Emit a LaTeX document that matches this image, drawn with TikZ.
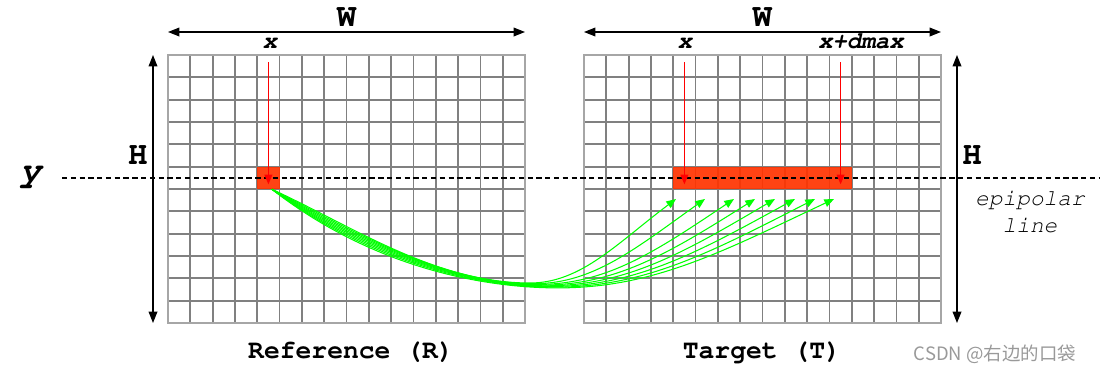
\documentclass[tikz,border=0pt]{standalone}
\usepackage[T1]{fontenc}
\usepackage{fontspec}
\newfontfamily\wmfont{Noto Sans CJK SC}
\usepackage{xcolor}
\usepackage{tikz}
\usetikzlibrary{arrows.meta, positioning, calc}
\definecolor{cellred}{HTML}{FF3300}
\definecolor{raygreen}{HTML}{00FF00}
\newcommand{\cour}[1]{\fontencoding{T1}\fontfamily{pcr}\fontsize{#1}{1.2\dimexpr#1pt\relax}\selectfont}
\tikzset{
  gridline/.style={draw=gray,line width=1pt},
  gridframe/.style={draw=gray!70,line width=1pt},
  pixel/.style={fill=cellred,fill opacity=0.92,inner sep=0pt,minimum width=0.446cm,minimum height=0.446cm},
  ray/.style={draw=red,line width=0.6pt,-{Triangle[length=5.5pt,width=4.5pt]}},
  match/.style={draw=raygreen,line width=0.6pt,-{Triangle[length=5.5pt,width=4.5pt]}},
  epiline/.style={dashed,line width=0.6pt,dash pattern=on 3pt off 2pt},
  dimlabel/.style={font=\cour{18.5}\bfseries,anchor=base,inner sep=0pt},
  coordlabel/.style={font=\cour{13.5}\bfseries\itshape,anchor=base,inner sep=0pt},
  imgname/.style={font=\cour{15}\bfseries,anchor=base,inner sep=0pt}
}
\begin{document}
\begin{tikzpicture}[x=0.02cm,y=-0.02cm,>={Triangle[length=6.5pt,width=5pt]}]
\useasboundingbox (0,0) rectangle (1112,373);
\foreach \gx in {168,584}{
  \foreach \i in {1,...,15} \draw [gridline] (\gx+\i*22.3125,55) -- (\gx+\i*22.3125,323);
  \foreach \j in {1,...,11} \draw [gridline] (\gx,55+\j*22.3333) -- (\gx+357,55+\j*22.3333);
  \draw [gridframe] (\gx,55) rectangle (\gx+357,323);
}
\node [pixel] (refpix) at (268.4,177.8) {};
\node [pixel,minimum width=3.57cm] (tgtrow) at (762.5,177.8) {};
\coordinate (wRl) at (168,32); \coordinate (wRr) at (525,32);
\coordinate (wTl) at (584,32); \coordinate (wTr) at (941,32);
\coordinate (hRt) at (153,55); \coordinate (hRb) at (153,323);
\coordinate (hTt) at (957,55); \coordinate (hTb) at (957,323);
\coordinate (epiL) at (62,178); \coordinate (epiR) at (1100,178);
\coordinate (xR) at (268.4,62); \coordinate (xT) at (684.4,62); \coordinate (xdT) at (840.6,62);
\node [dimlabel] (WR) at (346.5,26) {W};
\node [dimlabel,xshift=8.32cm] (WT) at (WR.base) {W};
\node [dimlabel] (HR) at (138,164) {H};
\node [dimlabel] (HT) at (972,164) {H};
\node [dimlabel,font=\cour{20}\bfseries\itshape] (ylab) at (31,181) {y};
\node [coordlabel] (xRlab) at (270,48) {x};
\node [coordlabel] (xTlab) at (685,48) {x};
\node [coordlabel] (xdTlab) at (861,48) {x+dmax};
\node [align=center,font=\cour{13}\itshape,inner sep=0pt] (epilab) at (1030,212) {epipolar\\line};
\node [imgname] (refname) at (351,358) {Reference (R)};
\node [imgname,xshift=8.22cm] (tgtname) at (refname.base) {Target (T)};
\node [font=\wmfont\fontsize{10.5}{12}\selectfont,text=black!40,anchor=base,inner sep=0pt] (csdn) at (995,360) {CSDN @右边的口袋};
\draw [<->,line width=0.7pt] (wRl) -- (wRr);
\draw [<->,line width=0.7pt] (wTl) -- (wTr);
\draw [<->,line width=0.7pt] (hRt) -- (hRb);
\draw [<->,line width=0.7pt] (hTt) -- (hTb);
\draw [epiline] (epiL) -- (epiR);
\draw [ray,shorten >=-0.13cm] (xR) -- (refpix.center);
\draw [ray,shorten >=-0.13cm] (xT) -- (xT |- tgtrow.center);
\draw [ray,shorten >=-0.13cm] (xdT) -- (xdT |- tgtrow.center);
\foreach \tx/\k in {676/0,705/1,734/2,755/3,775/4,795/5,815/6,834/7}{
  \coordinate (tip\k) at (\tx,199);
  \pgfmathsetmacro\mx{530+4*\k}
  \pgfmathsetmacro\my{283+0.7*\k}
  \pgfmathsetmacro\dx{\tx-\mx}
  \pgfmathsetmacro\sl{0.75-0.04*\k}
  \draw [match] ([xshift=0.07cm]refpix.south) .. controls (352+3*\k,226+6*\k) and (\mx-95+3*\k,\my) .. (\mx,\my) .. controls (\mx+0.35*\dx,\my) and (\tx-0.4*\dx,199+0.4*\dx*\sl) .. (tip\k);
}
\end{tikzpicture}
\end{document}
